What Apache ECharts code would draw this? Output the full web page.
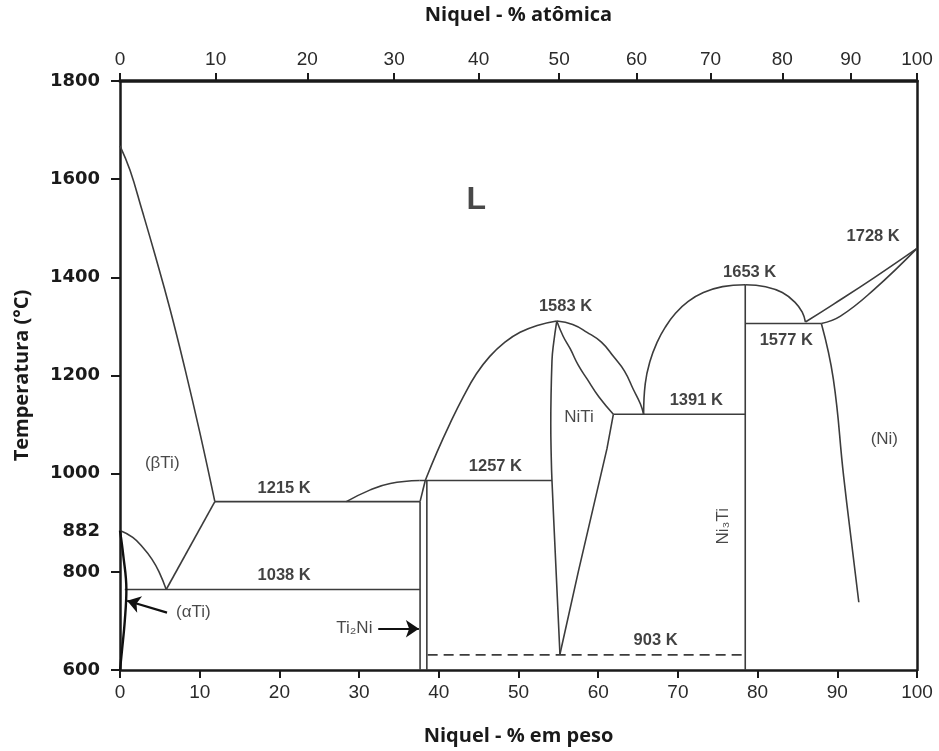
<!DOCTYPE html>
<html><head><meta charset="utf-8">
<script src="https://cdn.jsdelivr.net/npm/echarts@6/dist/echarts.min.js"></script>
<style>html,body{margin:0;padding:0;background:#fff}#c{width:939px;height:751px}</style>
</head><body><div id="c"></div>
<script>
// ---- tick labels ----
const atomicLabels = ['0','10','20','30','40','50','60','70','80','90','100'];
const atomicPosWt = [0, 12.0, 23.5, 34.4, 45.0, 55.1, 64.8, 74.1, 83.1, 91.7, 100];
const weightTicks = [0,10,20,30,40,50,60,70,80,90,100];
const tempLabels = [600, 800, 882, 1000, 1200, 1400, 1600, 1800];
const tempTicks = [600, 800, 1000, 1200, 1400, 1600, 1800];

// ---- phase boundaries [wt% Ni, °C] ----
const tiLiquidus = [[0,1668],[1.26,1618],[2.76,1537],[4.39,1446],[6.28,1335],[8.16,1213],[10.04,1082],[11.9,943]];
const eutectic1215 = [[11.9,943],[37.65,943]];
const liqTi2Ni = [[28.4,943],[31.4,967],[33.9,980],[37.6,986]];
const ti2NiLeft = [[37.65,943],[37.65,600]];
const ti2NiSlant = [[37.65,943],[38.3,986]];
const ti2NiRight = [[38.5,986],[38.5,600]];
const peritectic1257 = [[37.6,986],[54.2,986]];
const liqNiTiLeft = [[38.3,986],[39.8,1045],[41.4,1102],[43.05,1156],[44.7,1203],[46.4,1239],[48.3,1268],[50.2,1288],[52.35,1302],[54.8,1311]];
const niTiLeftBound = [[54.8,1311],[54.4,1265],[54.2,1230],[54.05,1100],[54.1,1040],[54.2,986],[55.2,632]];
const niTiRightBound = [[55.2,632],[57.5,800],[61.1,1051],[61.9,1121]];
const niTiSolidusR = [[54.8,1311],[55.6,1280],[56.5,1254],[57.5,1221],[58.6,1193],[60.1,1156],[61.9,1121]];
const niTiLiquidusR = [[54.8,1311],[56.8,1304],[58.6,1288],[60.4,1268],[61.9,1239],[63.3,1209],[64.4,1172],[65.3,1142],[65.7,1121]];
const eutectic1391 = [[61.9,1121],[78.45,1121]];
const ni3TiLiqL = [[65.7,1121],[65.9,1183],[66.5,1229],[67.4,1268],[68.4,1298],[69.7,1327],[71.3,1351],[73.2,1369],[75.6,1381],[78.45,1385]];
const ni3TiLiqR = [[78.45,1385],[81.0,1381],[83.1,1369],[84.7,1349],[85.6,1329],[86.0,1309]];
const ni3TiLine = [[78.45,1385],[78.45,600]];
const eutectic1577 = [[78.45,1306],[88.0,1306]];
const niLiquidus = [[86.0,1309],[89.5,1345],[94.6,1399],[100,1459]];
const niSolidus = [[88.0,1306],[90.4,1321],[94.6,1375],[100,1459]];
const niSolvus = [[88.0,1306],[89.5,1193],[90.8,994],[92.7,738]];
const line903 = [[38.6,631],[78.45,631]];
const alphaBeta = [[0,884],[1.6,870],[2.9,849],[4.0,826],[4.9,800],[5.8,764]];
const betaSolvus = [[5.8,764],[11.9,943]];
const eutectoid1038 = [[0.6,764],[37.65,764]];
const alphaLens = [[0,884],[0.4,835],[0.8,764],[0.6,700],[0.25,640],[0,600]];

// ---- arrows [from, to] ----
const arrowAlpha = [[5.9,717],[0.9,741]];
const arrowTi2Ni = [[32.4,684],[37.5,684]];

// ---- annotations [text, wt%, °C, kind] ----
const annotations = [
  ['L', 44.7, 1557, 'big'],
  ['(βTi)', 5.3, 1021, 'phase'],
  ['1215 K', 20.6, 969, 'temp'],
  ['1038 K', 20.6, 793, 'temp'],
  ['1257 K', 47.1, 1014, 'temp'],
  ['1583 K', 55.9, 1341, 'temp'],
  ['NiTi', 57.6, 1115, 'phase'],
  ['1391 K', 72.3, 1149, 'temp'],
  ['1653 K', 79.0, 1409, 'temp'],
  ['1577 K', 83.6, 1272, 'temp'],
  ['1728 K', 94.5, 1484, 'temp'],
  ['(Ni)', 95.9, 1071, 'phase'],
  ['903 K', 67.2, 661, 'temp'],
  ['Ni₃Ti', 75.7, 893, 'vert'],
  ['(αTi)', 9.2, 717, 'phase'],
  ['Ti₂Ni', 29.4, 684, 'phase']
];

const LINE_COLOR = '#3c3c3c';
const curves = [
  [tiLiquidus, true], [eutectic1215, false], [liqTi2Ni, true], [ti2NiLeft, false],
  [ti2NiSlant, false], [ti2NiRight, false], [peritectic1257, false], [liqNiTiLeft, true],
  [niTiLeftBound, true], [niTiRightBound, false], [niTiSolidusR, true], [niTiLiquidusR, true],
  [eutectic1391, false], [ni3TiLiqL, true], [ni3TiLiqR, true], [ni3TiLine, false],
  [eutectic1577, false], [niLiquidus, true], [niSolidus, true], [niSolvus, true],
  [alphaBeta, true], [betaSolvus, false], [eutectoid1038, false]
];

const series = curves.map(([d, sm]) => ({
  type: 'line', data: d, showSymbol: false, smooth: sm ? 0.45 : false,
  lineStyle: { color: LINE_COLOR, width: 1.6 }, silent: true, animation: false,
  xAxisIndex: 0, yAxisIndex: 0
}));
series.push({
  type: 'line', data: alphaLens, showSymbol: false, smooth: 0.4,
  lineStyle: { color: '#111', width: 2.4 }, animation: false
});
series.push({
  type: 'line', data: line903, showSymbol: false,
  lineStyle: { color: LINE_COLOR, width: 1.8, type: [10, 6] }, animation: false
});
series.push({
  type: 'lines', coordinateSystem: 'cartesian2d', animation: false,
  symbol: ['none', 'arrow'], symbolSize: 13,
  lineStyle: { color: '#111', width: 2.2, opacity: 1 },
  data: [{ coords: arrowAlpha }, { coords: arrowTi2Ni }]
});

const FONT = 'Liberation Sans, DejaVu Sans, sans-serif';
const styleFor = {
  big: { fontSize: 32, fontWeight: 'bold', color: '#1a1a1a' },
  phase: { fontSize: 17, fontWeight: 'normal', color: '#1a1a1a' },
  temp: { fontSize: 16.5, fontWeight: 'bold', color: '#111' },
  vert: { fontSize: 17, fontWeight: 'normal', color: '#1a1a1a', rotate: 90 }
};
series.push({
  type: 'scatter', symbolSize: 0, animation: false, silent: true,
  data: annotations.map(([t, x, y, k]) => ({
    value: [x, y], name: t,
    label: Object.assign({ show: true, position: 'inside', formatter: t, fontFamily: FONT,
      align: 'center', verticalAlign: 'middle' }, styleFor[k])
  }))
});

const chart = echarts.init(document.getElementById('c'), null, { renderer: 'canvas' });
const axisLineStyle = { color: '#1a1a1a', width: 2.5 };
const nameFont = { fontFamily: 'Open Sans, Liberation Sans, sans-serif', fontWeight: 'bold', fontSize: 20, color: '#1a1a1a' };
chart.setOption({
  backgroundColor: '#fff',
  animation: false,
  grid: { left: 120, right: 22, top: 80, bottom: 78, containLabel: false },
  xAxis: [
    {
      type: 'value', position: 'bottom', min: 0, max: 100, interval: 10,
      name: 'Niquel - % em peso', nameLocation: 'middle', nameGap: 56,
      nameTextStyle: nameFont,
      axisLine: { show: true, onZero: false, lineStyle: axisLineStyle },
      axisTick: { show: true, inside: false, length: 8, lineStyle: { color: '#1a1a1a', width: 2 }, customValues: weightTicks },
      axisLabel: { margin: 13, fontSize: 19, fontFamily: 'Liberation Sans Narrow, Liberation Sans, sans-serif', color: '#2a2a2a', customValues: weightTicks },
      splitLine: { show: false }
    },
    {
      type: 'value', position: 'top', min: 0, max: 100,
      name: 'Niquel - % atômica', nameLocation: 'middle', nameGap: 56,
      nameTextStyle: nameFont,
      axisLine: { show: true, onZero: false, lineStyle: { color: '#1a1a1a', width: 3.5 } },
      axisTick: { show: true, inside: false, length: 8, lineStyle: { color: '#1a1a1a', width: 2 }, customValues: atomicPosWt },
      axisLabel: {
        margin: 12, fontSize: 19, fontFamily: 'Liberation Sans Narrow, Liberation Sans, sans-serif', color: '#2a2a2a',
        customValues: atomicPosWt,
        formatter: v => { let i = 0, best = 1e9; atomicPosWt.forEach((p, k) => { if (Math.abs(p - v) < best) { best = Math.abs(p - v); i = k; } }); return atomicLabels[i]; }
      },
      splitLine: { show: false }
    }
  ],
  yAxis: [
    {
      type: 'value', position: 'left', min: 600, max: 1800,
      name: 'Temperatura (°C)', nameLocation: 'middle', nameGap: 88, nameRotate: 90,
      nameTextStyle: nameFont,
      axisLine: { show: true, onZero: false, lineStyle: axisLineStyle },
      axisTick: { show: true, inside: false, length: 9, lineStyle: { color: '#1a1a1a', width: 2 }, customValues: tempTicks },
      axisLabel: { margin: 20, fontSize: 18, fontWeight: 'bold', fontFamily: 'DejaVu Sans, Liberation Sans, sans-serif', color: '#1a1a1a', customValues: tempLabels, formatter: v => String(v) },
      splitLine: { show: false }
    },
    {
      type: 'value', position: 'right', min: 600, max: 1800,
      axisLine: { show: true, onZero: false, lineStyle: axisLineStyle },
      axisTick: { show: false }, axisLabel: { show: false }, splitLine: { show: false }
    }
  ],
  series: series
});
</script>
</body></html>
